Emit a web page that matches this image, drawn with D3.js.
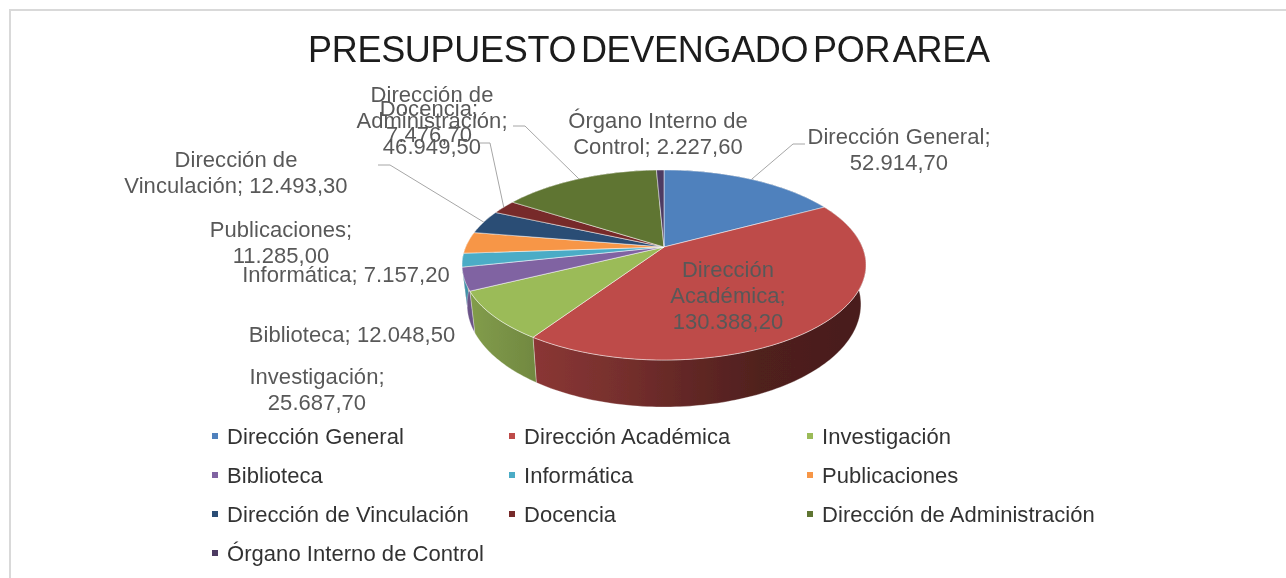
<!DOCTYPE html>
<html>
<head>
<meta charset="utf-8">
<script src="https://cdn.jsdelivr.net/npm/d3@7"></script>
<style>
  html, body { margin: 0; padding: 0; background: #fff; overflow: hidden; }
  svg { display: block; font-family: "Liberation Sans", Arial, sans-serif; }
</style>
</head>
<body>
<svg id="chart" width="1286" height="578"></svg>
<script>
// chart data
var categories = ["Dirección General", "Dirección Académica", "Investigación", "Biblioteca", "Informática",
                  "Publicaciones", "Dirección de Vinculación", "Docencia", "Dirección de Administración",
                  "Órgano Interno de Control"];
var values = [52914.7, 130388.2, 25687.7, 12048.5, 7157.2, 11285.0, 12493.3, 7476.7, 46949.5, 2227.6];
var chartTitle = "PRESUPUESTO DEVENGADO POR AREA";

var colors = ["#4f81bd", "#be4b48", "#9bbb59", "#8064a2", "#4bacc6", "#f79646", "#2c4d75", "#772c2a", "#5f7530", "#4d3b62"];

// where each data label sits: centre x, first baseline, words per broken line, leader elbow
var labelLayout = [
  {x: 899, y: 144, breaks: [2], elbow: [793, 144], end: [805, 144]},
  {x: 728, y: 277, breaks: [1, 1]},
  {x: 317, y: 384, breaks: [1]},
  {x: 352, y: 342, breaks: []},
  {x: 346, y: 282, breaks: []},
  {x: 281, y: 237, breaks: [1]},
  {x: 236, y: 167, breaks: [2], elbow: [390, 165], end: [378, 165]},
  {x: 429, y: 116, breaks: [1], elbow: [490, 143], end: [480, 143]},
  {x: 432, y: 102, breaks: [2, 1], elbow: [525, 126], end: [513, 126]},
  {x: 658, y: 128, breaks: [3]}
];

var svg = d3.select("#chart");
var root = svg.append("g").attr("filter", "url(#soft)");

var defs = svg.append("defs");
defs.append("filter").attr("id", "soft")
    .attr("filterUnits", "userSpaceOnUse")
    .attr("x", 0).attr("y", 0).attr("width", 1286).attr("height", 578)
  .append("feGaussianBlur").attr("stdDeviation", 0.45);

// chart frame, only top and left show
root.append("path")
    .attr("d", "M10,578V10H1286")
    .attr("fill", "none")
    .attr("stroke", "#d9d9d9")
    .attr("stroke-width", 2);

root.append("text")
    .attr("x", 649)
    .attr("y", 62)
    .attr("text-anchor", "middle")
    .attr("font-size", 36)
    .attr("word-spacing", -5)
    .attr("textLength", 682)
    .attr("lengthAdjust", "spacing")
    .attr("fill", "#1a1a1a")
    .text(chartTitle);

// perspective pie: the disc is a tilted circle seen from the front
var cx = 664, apexY = 247, radiusX = 198.3, radiusY = 91.6, persp = 0.1895;

function project(a) {
  var u = Math.sin(a), v = -Math.cos(a), w = 1 - persp * v;
  return [cx + radiusX * u / w, apexY + radiusY * v / w];
}

// lower rim of the side wall
function lower(p) {
  return [cx + (p[0] - cx) * 0.975, 407 + (p[1] - 360) * 1.08];
}

var pie = d3.pie().sort(null).startAngle(0).endAngle(2 * Math.PI);
var arcs = pie(values);

function rim(d) {
  var n = Math.max(2, Math.ceil((d.endAngle - d.startAngle) / 0.02));
  return d3.range(n + 1).map(function(i) {
    return project(d.startAngle + (d.endAngle - d.startAngle) * i / n);
  });
}

var line = d3.line();

// wall shading gets darker to the right
var shadeX = d3.scaleLinear().domain([462, 540, 620, 700, 760, 866]).range([0.85, 0.72, 0.62, 0.5, 0.42, 0.38]);

arcs.forEach(function(d, i) {
  var g = defs.append("linearGradient")
      .attr("id", "wall" + i)
      .attr("gradientUnits", "userSpaceOnUse")
      .attr("x1", 462).attr("x2", 866).attr("y1", 0).attr("y2", 0);
  shadeX.domain().forEach(function(x) {
    var c = d3.rgb(colors[i]), k = shadeX(x);
    g.append("stop")
        .attr("offset", (x - 462) / (866 - 462))
        .attr("stop-color", d3.rgb(c.r * k, c.g * k, c.b * k));
  });
});

// side walls first, the top surface covers the back ones
root.append("g").selectAll("path")
    .data(arcs)
    .enter()
  .append("path")
    .attr("d", function(d) {
      var top = rim(d);
      return line(top.concat(top.map(lower).reverse())) + "Z";
    })
    .attr("fill", function(d, i) { return "url(#wall" + i + ")"; })
    .attr("stroke", "#fff")
    .attr("stroke-opacity", 0.5)
    .attr("stroke-width", 0.6);

root.append("g").selectAll("path")
    .data(arcs)
    .enter()
  .append("path")
    .attr("d", function(d) { return line([[cx, apexY]].concat(rim(d))) + "Z"; })
    .attr("fill", function(d, i) { return colors[i]; })
    .attr("stroke", "#fff")
    .attr("stroke-opacity", 0.7)
    .attr("stroke-width", 0.7);

// leader lines
root.append("g").selectAll("path")
    .data(arcs.filter(function(d, i) { return labelLayout[i].elbow; }))
    .enter()
  .append("path")
    .attr("d", function(d) {
      var l = labelLayout[d.index];
      return line([project((d.startAngle + d.endAngle) / 2), l.elbow, l.end]);
    })
    .attr("fill", "none")
    .attr("stroke", "#a6a6a6")
    .attr("stroke-width", 1);

// data labels
var fmt = d3.formatLocale({decimal: ",", thousands: ".", grouping: [3], currency: ["", ""]}).format(",.2f");

function labelLines(i) {
  var words = (categories[i] + "; " + fmt(values[i])).split(" ");
  var out = [], pos = 0;
  labelLayout[i].breaks.forEach(function(n) {
    out.push(words.slice(pos, pos + n).join(" "));
    pos += n;
  });
  out.push(words.slice(pos).join(" "));
  return out;
}

root.append("g").selectAll("text")
    .data(categories)
    .enter()
  .append("text")
    .attr("text-anchor", "middle")
    .attr("font-size", 22)
    .attr("letter-spacing", 0.05)
    .attr("fill", "#595959")
    .each(function(d, i) {
      var l = labelLayout[i];
      d3.select(this).selectAll("tspan")
          .data(labelLines(i))
          .enter()
        .append("tspan")
          .attr("x", l.x)
          .attr("y", function(t, j) { return l.y + j * 26; })
          .text(function(t) { return t; });
    });

// legend, three columns
var legendX = d3.scaleOrdinal().domain([0, 1, 2]).range([212, 509, 807]);
var legendY = d3.scaleOrdinal().domain([0, 1, 2, 3]).range([436, 475, 514, 553]);

var legend = root.append("g").selectAll("g")
    .data(categories)
    .enter()
  .append("g")
    .attr("transform", function(d, i) {
      return "translate(" + legendX(i % 3) + "," + legendY(Math.floor(i / 3)) + ")";
    });

legend.append("rect")
    .attr("y", -3)
    .attr("width", 6)
    .attr("height", 6)
    .attr("fill", function(d, i) { return colors[i]; });

legend.append("text")
    .attr("x", 15)
    .attr("y", 8)
    .attr("font-size", 22)
    .attr("letter-spacing", 0.05)
    .attr("fill", "#333")
    .text(function(d) { return d; });
</script>
</body>
</html>
